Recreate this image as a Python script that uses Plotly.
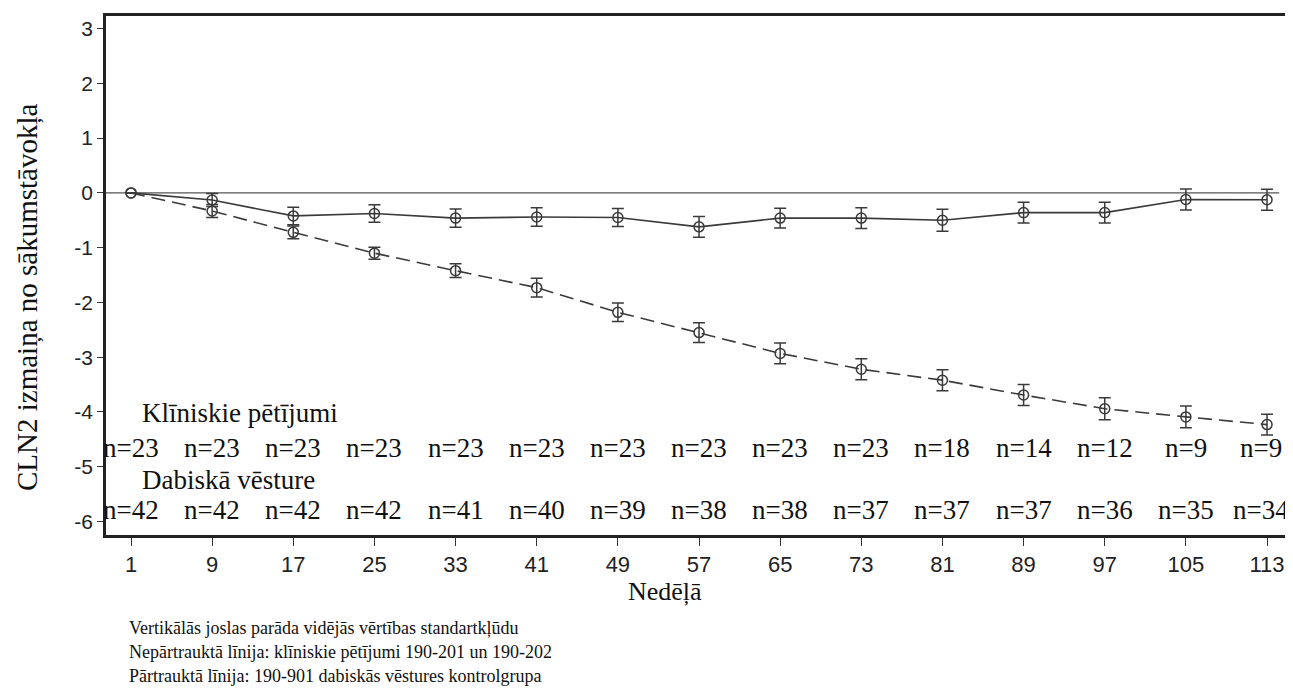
import math
import plotly.graph_objects as go

weeks = [1, 9, 17, 25, 33, 41, 49, 57, 65, 73, 81, 89, 97, 105, 113]
tick_labels = [str(w) for w in weeks]

clinical_mean = [0, -0.13, -0.42, -0.375, -0.46, -0.44, -0.45, -0.62, -0.46, -0.46, -0.50, -0.36, -0.36, -0.12, -0.125]
clinical_se = [math.nan, 0.12, 0.16, 0.16, 0.165, 0.17, 0.165, 0.19, 0.18, 0.19, 0.20, 0.19, 0.19, 0.19, 0.19]

natural_mean = [0, -0.33, -0.72, -1.10, -1.42, -1.73, -2.18, -2.55, -2.93, -3.22, -3.42, -3.69, -3.94, -4.09, -4.23]
natural_se = [math.nan, 0.12, 0.115, 0.11, 0.125, 0.17, 0.17, 0.18, 0.19, 0.19, 0.19, 0.19, 0.20, 0.20, 0.19]

clinical_n = [23, 23, 23, 23, 23, 23, 23, 23, 23, 23, 18, 14, 12, 9, 9]
natural_n = [42, 42, 42, 42, 41, 40, 39, 38, 38, 37, 37, 37, 36, 35, 34]

y_ticks = [3, 2, 1, 0, -1, -2, -3, -4, -5, -6]
y_tick_labels = [str(v) for v in y_ticks]

footnotes = [
    "Vertikālās joslas parāda vidējās vērtības standartkļūdu",
    "Nepārtrauktā līnija: klīniskie pētījumi 190-201 un 190-202",
    "Pārtrauktā līnija: 190-901 dabiskās vēstures kontrolgrupa",
]

LINE = "#3a3a3a"
SERIF = "Liberation Serif"
SANS = "Liberation Sans"

# page body has an 8px margin; screen coords = figure coords + 8
OFF = 8
PL, PT, PR, PB = 106, 16, 1293, 535   # plot area in screen pixels
PW, PH = PR - PL, PB - PT


def px(xs):
    return (xs - PL) / PW


def py(ys):
    return (PB - ys) / PH


fig = go.Figure()

fig.add_trace(go.Scatter(
    x=weeks, y=natural_mean, mode="lines+markers",
    line=dict(color=LINE, width=1.6, dash="14px,7px"),
    marker=dict(symbol="circle-open", size=10, color=LINE, line=dict(width=1.5, color=LINE)),
    error_y=dict(type="data", array=natural_se, visible=True, color=LINE, thickness=1.5, width=6),
    showlegend=False,
))
fig.add_trace(go.Scatter(
    x=weeks, y=clinical_mean, mode="lines+markers",
    line=dict(color=LINE, width=1.6),
    marker=dict(symbol="circle-open", size=10, color=LINE, line=dict(width=1.5, color=LINE)),
    error_y=dict(type="data", array=clinical_se, visible=True, color=LINE, thickness=1.5, width=6),
    showlegend=False,
))

# n labels (the last column sits a little left, as in the source)
n_font = dict(family=SERIF, size=27, color="#111")
for row_y, counts in ((-4.66, clinical_n), (-5.79, natural_n)):
    for w, c in zip(weeks, counts):
        fig.add_annotation(x=w, y=row_y, xref="x", yref="y", text=f"n={c}",
                           showarrow=False, xanchor="center", yanchor="middle",
                           xshift=-6 if w == weeks[-1] else 0, font=n_font)

fig.add_annotation(x=1.9, y=-4.02, xref="x", yref="y", text="Klīniskie pētījumi",
                   showarrow=False, xanchor="left", yanchor="middle", font=n_font)
fig.add_annotation(x=1.9, y=-5.24, xref="x", yref="y", text="Dabiskā vēsture",
                   showarrow=False, xanchor="left", yanchor="middle", font=n_font)

# zero reference line
fig.add_shape(type="line", xref="x", yref="y", x0=-1.465, x1=114.2, y0=0, y1=0,
              line=dict(color="#555", width=1.3), layer="below")

# axis titles
fig.add_annotation(x=px(665), y=py(592), xref="paper", yref="paper",
                   text="Nedēļā", showarrow=False, xanchor="center", yanchor="middle",
                   font=dict(family=SERIF, size=26, color="#111"))
fig.add_annotation(x=px(27), y=py(297), xref="paper", yref="paper",
                   text="CLN2 izmaiņa no sākumstāvokļa", textangle=-90, showarrow=False,
                   xanchor="center", yanchor="middle",
                   font=dict(family=SERIF, size=29, color="#111"))

for i, line_text in enumerate(footnotes):
    yc = 628 + 24 * i
    fig.add_annotation(x=px(127), y=py(yc), xref="paper", yref="paper",
                       text=line_text, showarrow=False, xanchor="left", yanchor="middle",
                       font=dict(family=SERIF, size=18, color="#111"))

fig.update_layout(
    width=1293 - OFF, height=693 - OFF,
    margin=dict(l=PL - OFF, r=0, t=PT - OFF, b=693 - PB, autoexpand=False),
    plot_bgcolor="white", paper_bgcolor="white",
    xaxis=dict(range=[-1.465, 115.56], tickmode="array", tickvals=weeks, ticktext=tick_labels,
               showline=True, linecolor="#222", linewidth=2.5, mirror=True,
               ticks="outside", ticklen=8, tickwidth=1.3, tickcolor="#333",
               showgrid=False, zeroline=False, automargin=False,
               tickfont=dict(family=SANS, size=22, color="#222")),
    yaxis=dict(range=[-6.246, 3.23], tickmode="array", tickvals=y_ticks, ticktext=y_tick_labels,
               showline=True, linecolor="#222", linewidth=2.5,
               ticks="outside", ticklen=6, tickwidth=1.3, tickcolor="#333",
               showgrid=False, zeroline=False, automargin=False,
               tickfont=dict(family=SANS, size=21, color="#222")),
)

fig.write_html("out.html")
